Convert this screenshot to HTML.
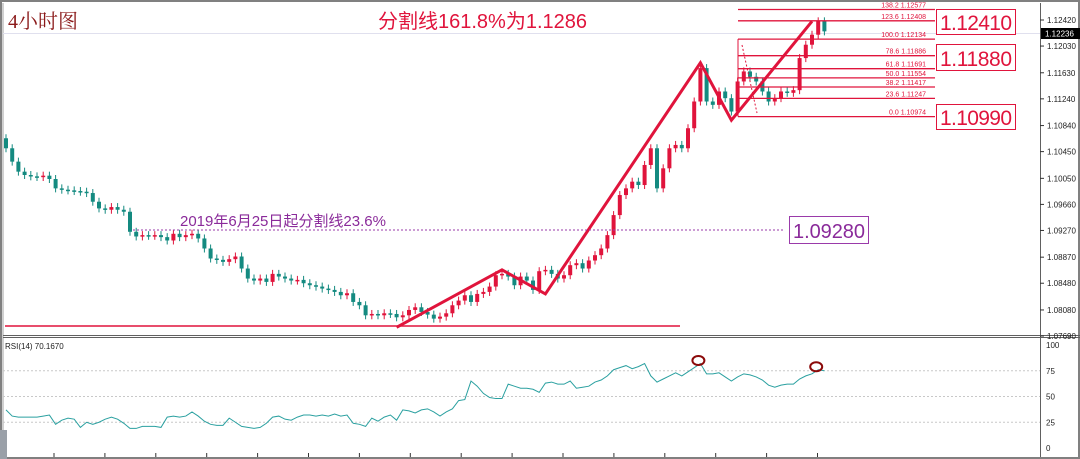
<!DOCTYPE html>
<html><head><meta charset="utf-8">
<style>
html,body{margin:0;padding:0;background:#fff;}
svg{display:block;}
text{font-family:"Liberation Sans","Noto Sans CJK SC",sans-serif;}
</style></head>
<body>
<svg id="chart" width="1080" height="459" viewBox="0 0 1080 459">
<rect x="0" y="0" width="1080" height="459" fill="#fff"/>
<rect x="1" y="1" width="1078" height="457" fill="none" stroke="#808080" stroke-width="2"/>
<line x1="3" y1="3" x2="3" y2="457" stroke="#a0a0a0" stroke-width="1"/>
<line x1="1040.5" y1="3" x2="1040.5" y2="457" stroke="#606060"/>
<line x1="3" y1="335.5" x2="1080" y2="335.5" stroke="#606060"/>
<line x1="3" y1="337.5" x2="1080" y2="337.5" stroke="#606060"/>
<line x1="3" y1="33.5" x2="1040" y2="33.5" stroke="#e0e0ee"/>
<g id="candles"></g>
<g id="axis"></g>
<g id="rsi"></g>
<g id="overlay"></g>
</svg>
<script>
const closes = [
1.1050,1.1030,1.1015,1.1010,1.1008,1.1007,1.1009,1.1004,1.0990,1.0988,
1.0987,1.0986,1.0985,1.0983,1.0970,1.0960,1.0958,1.0962,1.0958,1.0955,
1.0925,1.0918,1.0920,1.0919,1.0920,1.0917,1.0912,1.0922,1.0917,1.0920,
1.0922,1.0915,1.0900,1.0885,1.0883,1.0880,1.0884,1.0888,1.0870,1.0855,
1.0852,1.0855,1.0850,1.0862,1.0858,1.0855,1.0852,1.0853,1.0848,1.0845,
1.0843,1.0840,1.0838,1.0835,1.0830,1.0833,1.0820,1.0815,1.0800,1.0802,
1.0800,1.0803,1.0802,1.0797,1.0800,1.0808,1.0812,1.0805,1.0801,1.0795,
1.0798,1.0803,1.0815,1.0822,1.0830,1.0820,1.0832,1.0835,1.0843,1.0860,
1.0862,1.0858,1.0845,1.0858,1.0852,1.0838,1.0866,1.0868,1.0862,1.0855,
1.0860,1.0875,1.0878,1.0870,1.0882,1.0890,1.0900,1.0920,1.0950,1.0980,
1.0990,1.1000,1.0995,1.1025,1.1050,1.0990,1.1020,1.1050,1.1055,1.1050,
1.1080,1.1120,1.1170,1.1120,1.1115,1.1135,1.1125,1.1105,1.1150,1.1165,
1.1157,1.1150,1.1135,1.1120,1.1125,1.1135,1.1133,1.1137,1.1185,1.1205,
1.1220,1.1240,1.1225];
const rsiValues = [
37,31,30,30,30,30,31,32,23,27,29,28,20,25,23,25,28,30,28,24,
19,19,21,21,21,20,30,31,30,31,35,31,26,23,22,22,29,25,21,20,
19,20,24,30,31,28,27,30,32,32,31,32,31,33,31,32,24,23,21,29,
26,30,32,27,37,36,34,37,38,35,31,35,38,46,47,65,60,53,49,48,
48,62,60,58,58,57,54,63,64,62,62,65,58,59,60,64,66,70,76,78,
80,77,79,82,70,64,67,70,73,70,74,78,82,72,72,73,69,65,69,72,
71,69,66,61,59,61,62,62,67,70,72,76,75];
const priceTicks = ["1.12420","1.12030","1.11630","1.11240","1.10840","1.10450","1.10050","1.09660","1.09270","1.08870","1.08480","1.08080","1.07690"];
const rsiTicks = [100,75,50,25,0];
const fibLevels = ["138.2","123.6","100.0","78.6","61.8","50.0","38.2","23.6","0.0"];
const fibPrices = [1.12577,1.12408,1.12134,1.11886,1.11691,1.11554,1.11417,1.11247,1.10974];
const zigzag = [[63,1.0782],[80,1.0868],[87,1.0832],[112,1.1178],[117,1.1092],[130,1.1240]];

const NS="http://www.w3.org/2000/svg";
function el(tag,attrs,parent){const e=document.createElementNS(NS,tag);for(const k in attrs)e.setAttribute(k,attrs[k]);parent.appendChild(e);return e;}
const yP = p => 20 + (1.1242 - p) * 6681;
const xI = i => 6 + i * 6.2;
const yR = v => 448 - v * 1.03;
const UP="#e0143c", DN="#148a80";

const cg=document.getElementById('candles');
for(let i=0;i<closes.length;i++){
  const c=closes[i], o= i>0?closes[i-1]:c+0.0015;
  const up=c>=o, col=up?UP:DN;
  const top=yP(Math.max(o,c)), bot=yP(Math.min(o,c));
  const w=el('line',{x1:xI(i),x2:xI(i),y1:top-4,y2:bot+4,stroke:col,'stroke-width':1},cg);
  
  
  const b=el('rect',{x:xI(i)-2,y:top,width:4,height:Math.max(1.5,bot-top),fill:col},cg);
  
  
}

const ax=document.getElementById('axis');
priceTicks.forEach(t=>{
  const y=yP(parseFloat(t));
  el('line',{x1:1040,x2:1044,y1:y,y2:y,stroke:'#333'},ax);
  const tx=el('text',{x:1047,y:y+3,'font-size':8,fill:'#222'},ax);tx.textContent=t;
  
  
});

const rg=document.getElementById('rsi');
rsiTicks.forEach(v=>{
  const y=yR(v);
  if(v>0&&v<100){const l=el('line',{x1:3,x2:1040,y1:y,y2:y,stroke:'#c8c8c8','stroke-dasharray':'2,2'},rg);
  
  }
  const tx=el('text',{x:1046,y:y+3,'font-size':8,fill:'#222'},rg);tx.textContent=v;
  
  
});
const rp=el('polyline',{points:rsiValues.map((v,i)=>xI(i)+','+yR(v)).join(' '),fill:'none',stroke:'#2aa0a0','stroke-width':1},rg);


for(let k=0;k<16;k++){const x=54+k*50.9;el('line',{x1:x,x2:x,y1:453,y2:457,stroke:'#333'},rg);}
const rl=el('text',{x:5,y:349,'font-size':8,fill:'#222'},rg);rl.textContent='RSI(14) 70.1670';


[[112,82],[131,76]].forEach(([i,v])=>{
  const c=el('ellipse',{cx:xI(i)-2,cy:yR(v)-3,rx:6,ry:4.5,fill:'none',stroke:'#8b0a0a','stroke-width':2},rg);
  
  
});

const ov=document.getElementById('overlay');
const fx1=738, fx2=935;
fibLevels.forEach((l,k)=>{
  const y=yP(fibPrices[k]);
  const ln=el('line',{x1:fx1,x2:fx2,y1:y,y2:y,stroke:UP,'stroke-width':1.3},ov);
  
  
  const t=el('text',{x:926,y:y-2,'font-size':7,fill:UP,'text-anchor':'end'},ov);t.textContent=l+'  '+fibPrices[k].toFixed(5);
  
  
});
el('line',{x1:fx1,x2:fx1,y1:yP(fibPrices[2]),y2:yP(fibPrices[8]),stroke:UP,'stroke-width':1},ov);
el('line',{x1:742,x2:757,y1:45,y2:113,stroke:UP,'stroke-width':1,'stroke-dasharray':'2,2'},ov);
const sl=el('line',{x1:5,x2:680,y1:326,y2:326,stroke:UP,'stroke-width':1.5},ov);


const zz=el('polyline',{points:zigzag.map(([i,p])=>xI(i)+','+yP(p)).join(' '),fill:'none',stroke:UP,'stroke-width':3,'stroke-linejoin':'miter'},ov);


const pl=el('line',{x1:133,x2:785,y1:230,y2:230,stroke:'#9a3aaa','stroke-width':1,'stroke-dasharray':'2,2'},ov);


</script>
<svg width="1080" height="459" style="position:absolute;left:0;top:0">
<text x="8" y="28" font-size="20" fill="#8b1a1a" style="font-family:'Liberation Serif','Noto Serif CJK SC',serif">4小时图</text>
<text x="378" y="28" font-size="20" fill="#e0143c">分割线161.8%为1.1286</text>
<text x="180" y="226" font-size="15" fill="#8a2a9a">2019年6月25日起分割线23.6%</text>
<rect x="789.5" y="216.5" width="79" height="27" fill="#fff" stroke="#9a3aaa"/>
<text x="793" y="238" font-size="20" textLength="72" fill="#8a2a9a">1.09280</text>
<rect x="936.5" y="9.5" width="79" height="25" fill="#fff" stroke="#e0143c"/>
<text x="940" y="30" font-size="21" textLength="72" fill="#e0143c">1.12410</text>
<rect x="936.5" y="44.5" width="79" height="26" fill="#fff" stroke="#e0143c"/>
<text x="940" y="66" font-size="21" textLength="72" fill="#e0143c">1.11880</text>
<rect x="936.5" y="104.5" width="79" height="25" fill="#fff" stroke="#e0143c"/>
<text x="940" y="125" font-size="21" textLength="72" fill="#e0143c">1.10990</text>
<rect x="1041" y="28" width="39" height="11" fill="#000"/>
<text x="1045" y="36.5" font-size="8" fill="#fff">1.12236</text>
<rect x="0" y="430" width="7" height="29" fill="#9aa0a8"/>
</svg>
</body></html>
